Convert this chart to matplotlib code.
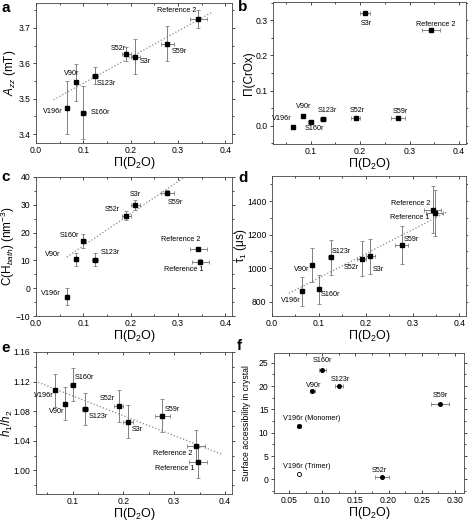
import numpy as np
import matplotlib
matplotlib.use("Agg")
import matplotlib.pyplot as plt
from matplotlib.ticker import MultipleLocator

plt.rcParams['font.family'] = ['Liberation Sans', 'DejaVu Sans']
plt.rcParams['mathtext.fontset'] = 'custom'
plt.rcParams['mathtext.rm'] = 'Liberation Sans'
plt.rcParams['mathtext.it'] = 'Liberation Sans:italic'

# common data (x = Pi(D2O))
names = ["V196r", "V90r", "S160r", "S123r", "S52r", "S3r", "S59r", "Reference 2", "Reference 1"]
pi_d2o = [0.065, 0.085, 0.100, 0.125, 0.191, 0.210, 0.277, 0.343, 0.347]
pi_d2o_err = [0.003, 0.004, 0.005, 0.006, 0.009, 0.010, 0.014, 0.018, 0.018]

# a: A_zz (no Reference 1)
azz = [3.475, 3.546, 3.460, 3.565, 3.626, 3.619, 3.655, 3.725]
azz_err = [0.075, 0.052, 0.075, 0.024, 0.020, 0.050, 0.050, 0.026]

# b: Pi(CrOx) (no Reference 1)
crox = [-0.003, 0.029, 0.010, 0.020, 0.021, 0.321, 0.021, 0.271]

# c: C(H_bath)
chb = [-3.0, 10.4, 17.0, 10.3, 26.1, 29.9, 34.4, 14.1, 9.6]
chb_err = [3.2, 2.4, 2.5, 2.3, 1.6, 1.7, 1.0, 0.8, 0.8]

# d: tau1
tau1 = [862, 1020, 874, 1064, 1056, 1070, 1140, 1350, 1330]
tau1_err = [85, 100, 88, 105, 105, 107, 114, 138, 137]

# e: h1/h2
h12 = [1.108, 1.090, 1.116, 1.083, 1.087, 1.066, 1.074, 1.033, 1.011]
h12_err = [0.022, 0.022, 0.022, 0.022, 0.022, 0.022, 0.022, 0.022, 0.021]

# f: surface accessibility
f_names = ["V196r (Trimer)", "V196r (Monomer)", "V90r", "S160r", "S123r", "S52r", "S59r"]
f_x = [0.065, 0.065, 0.085, 0.100, 0.125, 0.190, 0.278]
f_xerr = [0.0, 0.003, 0.004, 0.005, 0.006, 0.010, 0.014]
f_acc = [1.1, 11.4, 18.9, 23.4, 20.0, 0.5, 16.2]

# dotted fit lines (x0, x1, y0, y1)
fit_a = [0.037, 0.372, 3.497, 3.744]
fit_c = [0.065, 0.314, 11.2, 40.0]
fit_d = [0.036, 0.375, 850, 1338]
fit_e = [0.032, 0.393, 1.119, 1.022]

ecol = "#808080"
lab_fs = 5.2

fig = plt.figure(figsize=(4.68, 5.22), dpi=100)
W, H = 468.0, 522.0

def mkax(l, t, r, b):
    return fig.add_axes([l / W, 1 - b / H, (r - l) / W, (b - t) / H])

def style(ax, ylab, ylx, yfs=8.5):
    ax.tick_params(which='both', labelsize=6.2, width=0.5, pad=1.5)
    ax.tick_params(axis='x', which='both', direction='in', pad=2.5)
    ax.tick_params(axis='y', which='both', direction='out')
    ax.tick_params(which='major', length=2.5)
    ax.tick_params(which='minor', length=1.3)
    ax.tick_params(which='both', top=True, right=True)
    for s in ax.spines.values():
        s.set_linewidth(0.6)
        s.set_color("#444444")
    l, b, w, h = ax.get_position().bounds
    hpx = h * H
    ax.set_xlabel("Π(D$_2$O)", fontsize=9)
    ax.xaxis.set_label_coords(0.5, -12.0 / hpx)
    ax.set_ylabel(ylab, fontsize=yfs)
    ax.yaxis.set_label_coords((ylx / W - l) / w, 0.5)

def pts(ax, x, y, yerr=None, xerr=None):
    ax.errorbar(x, y, yerr=yerr, xerr=xerr, fmt='s', ms=2.4, color='black',
                ecolor=ecol, elinewidth=0.7, capsize=1.6, capthick=0.6, zorder=3)

def fit(ax, f):
    ax.plot([f[0], f[1]], [f[2], f[3]], ls=':', color='#888888', lw=0.9, zorder=1)

def txt(ax, x, y, s, ha='left'):
    ax.text(x, y, s, fontsize=lab_fs, ha=ha, va='center')

def letter(px, py, s):
    fig.text(px / W, 1 - py / H, s, fontsize=11, fontweight='bold', ha='left', va='center')

# ---- a
ax = mkax(36, 3, 232, 143)
pts(ax, pi_d2o[:8], azz, azz_err, pi_d2o_err[:8])
fit(ax, fit_a)
ax.set_xlim(0, 0.414)
ax.set_ylim(3.375, 3.77)
ax.xaxis.set_major_locator(MultipleLocator(0.1))
ax.xaxis.set_minor_locator(MultipleLocator(0.05))
ax.yaxis.set_major_locator(MultipleLocator(0.1))
ax.yaxis.set_minor_locator(MultipleLocator(0.05))
style(ax, "$A_{zz}$ (mT)", 18)
txt(ax, 0.298, 3.750, "Reference 2", 'center')
txt(ax, 0.287, 3.634, "S59r")
txt(ax, 0.219, 3.605, "S3r")
txt(ax, 0.190, 3.641, "S52r", 'right')
txt(ax, 0.091, 3.571, "V90r", 'right')
txt(ax, 0.128, 3.544, "S123r")
txt(ax, 0.056, 3.464, "V196r", 'right')
txt(ax, 0.116, 3.460, "S160r")
letter(1, 8, "a")

# ---- b
ax = mkax(273, 2, 466, 144)
pts(ax, pi_d2o[:8], crox, None, pi_d2o_err[:8])
ax.set_xlim(0.024, 0.414)
ax.set_ylim(-0.052, 0.352)
ax.xaxis.set_major_locator(MultipleLocator(0.1))
ax.xaxis.set_minor_locator(MultipleLocator(0.05))
ax.yaxis.set_major_locator(MultipleLocator(0.1))
ax.yaxis.set_minor_locator(MultipleLocator(0.05))
style(ax, "Π(CrOx)", 255)
txt(ax, 0.212, 0.290, "S3r", 'center')
txt(ax, 0.352, 0.289, "Reference 2", 'center')
txt(ax, 0.087, 0.054, "V90r", 'center')
txt(ax, 0.061, 0.021, "V196r", 'right')
txt(ax, 0.108, -0.008, "S160r", 'center')
txt(ax, 0.134, 0.042, "S123r", 'center')
txt(ax, 0.194, 0.043, "S52r", 'center')
txt(ax, 0.281, 0.040, "S59r", 'center')
letter(238, 7, "b")

# ---- c
ax = mkax(36, 177, 232, 316)
pts(ax, pi_d2o, chb, chb_err, pi_d2o_err)
fit(ax, fit_c)
ax.set_xlim(0, 0.414)
ax.set_ylim(-10, 40)
ax.xaxis.set_major_locator(MultipleLocator(0.1))
ax.xaxis.set_minor_locator(MultipleLocator(0.05))
ax.yaxis.set_major_locator(MultipleLocator(10))
ax.yaxis.set_minor_locator(MultipleLocator(5))
style(ax, "C(H$_{bath}$) (nm$^{-3}$)", 17)
txt(ax, 0.2095, 33.6, "S3r", 'center')
txt(ax, 0.279, 30.9, "S59r")
txt(ax, 0.178, 28.2, "S52r", 'right')
txt(ax, 0.091, 19.0, "S160r", 'right')
txt(ax, 0.051, 12.2, "V90r", 'right')
txt(ax, 0.1375, 12.8, "S123r")
txt(ax, 0.053, -1.8, "V196r", 'right')
txt(ax, 0.305, 17.6, "Reference 2", 'center')
txt(ax, 0.312, 6.8, "Reference 1", 'center')
letter(1, 177, "c")

# ---- d
ax = mkax(272, 176, 466, 316)
pts(ax, pi_d2o, tau1, tau1_err, pi_d2o_err)
fit(ax, fit_d)
ax.set_xlim(0, 0.414)
ax.set_ylim(715, 1550)
ax.xaxis.set_major_locator(MultipleLocator(0.1))
ax.xaxis.set_minor_locator(MultipleLocator(0.05))
ax.yaxis.set_major_locator(MultipleLocator(200))
ax.yaxis.set_minor_locator(MultipleLocator(100))
style(ax, "τ$_1$ (μs)", 249)
txt(ax, 0.337, 1386, "Reference 2", 'right')
txt(ax, 0.336, 1300, "Reference 1", 'right')
txt(ax, 0.282, 1172, "S59r")
txt(ax, 0.128, 1100, "S123r")
txt(ax, 0.081, 990, "V90r", 'right')
txt(ax, 0.186, 1002, "S52r", 'right')
txt(ax, 0.215, 990, "S3r")
txt(ax, 0.061, 806, "V196r", 'right')
txt(ax, 0.1045, 842, "S160r")
letter(238, 178, "d")

# ---- e
ax = mkax(36, 352, 232, 494)
pts(ax, pi_d2o, h12, h12_err, pi_d2o_err)
fit(ax, fit_e)
ax.set_xlim(0.028, 0.414)
ax.set_ylim(0.968, 1.16)
ax.xaxis.set_major_locator(MultipleLocator(0.1))
ax.xaxis.set_minor_locator(MultipleLocator(0.05))
ax.yaxis.set_major_locator(MultipleLocator(0.04))
ax.yaxis.set_minor_locator(MultipleLocator(0.02))
style(ax, "$h_1/h_2$", 15)
txt(ax, 0.1046, 1.125, "S160r")
txt(ax, 0.063, 1.1014, "V196r", 'right')
txt(ax, 0.0836, 1.079, "V90r", 'right')
txt(ax, 0.131, 1.073, "S123r")
txt(ax, 0.183, 1.097, "S52r", 'right')
txt(ax, 0.217, 1.0555, "S3r")
txt(ax, 0.281, 1.082, "S59r")
txt(ax, 0.335, 1.0226, "Reference 2", 'right')
txt(ax, 0.341, 1.0023, "Reference 1", 'right')
letter(1, 348, "e")

# ---- f
ax = mkax(274, 353, 464, 493)
ax.errorbar(f_x[1:], f_acc[1:], xerr=f_xerr[1:], fmt='o', ms=2.6, color='black',
            ecolor=ecol, elinewidth=0.7, capsize=1.6, capthick=0.6, zorder=3)
ax.plot(f_x[:1], f_acc[:1], 'o', ms=3, mfc='white', mec='black', mew=0.6, zorder=3)
ax.set_xlim(0.027, 0.314)
ax.set_ylim(-2.9, 27.1)
ax.xaxis.set_major_locator(MultipleLocator(0.05))
ax.xaxis.set_minor_locator(MultipleLocator(0.025))
ax.yaxis.set_major_locator(MultipleLocator(5))
ax.yaxis.set_minor_locator(MultipleLocator(2.5))
style(ax, "Surface accessibility in crystal", 251, yfs=6.2)
ax.xaxis.set_major_formatter(matplotlib.ticker.FormatStrFormatter('%.2f'))
txt(ax, 0.1002, 25.6, "S160r", 'center')
txt(ax, 0.128, 21.4, "S123r", 'center')
txt(ax, 0.0867, 20.2, "V90r", 'center')
txt(ax, 0.278, 18.0, "S59r", 'center')
txt(ax, 0.084, 13.0, "V196r (Monomer)", 'center')
txt(ax, 0.0766, 2.86, "V196r (Trimer)", 'center')
txt(ax, 0.1866, 1.93, "S52r", 'center')
letter(237, 346, "f")

fig.savefig("out.png", dpi=100)
